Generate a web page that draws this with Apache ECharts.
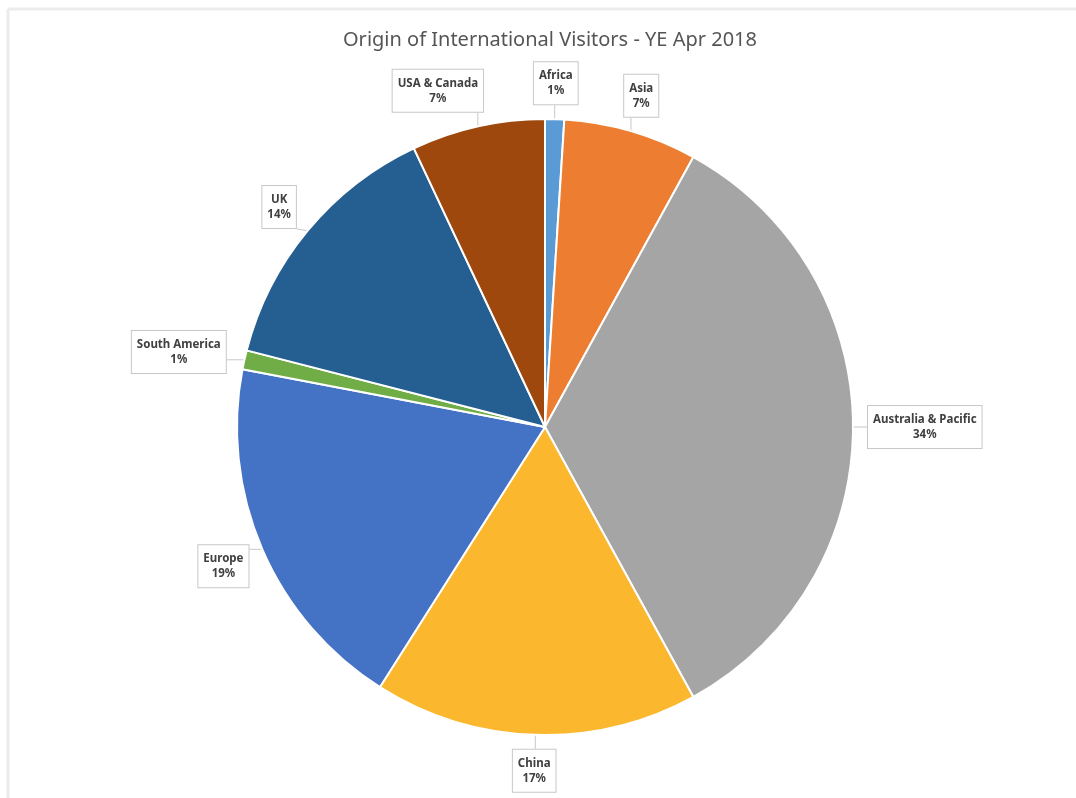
<!DOCTYPE html>
<html>
<head>
<meta charset="utf-8">
<script src="https://cdn.jsdelivr.net/npm/echarts@6/dist/echarts.min.js"></script>
<style>
  html, body { margin: 0; padding: 0; background: #ffffff; }
  #chart { width: 1076px; height: 798px; }
</style>
</head>
<body>
<div id="chart"></div>
<script>
// Regions of origin, clockwise from 12 o'clock
const categories = ['Africa', 'Asia', 'Australia & Pacific', 'China', 'Europe', 'South America', 'UK', 'USA & Canada'];
// Share of international visitors (%)
const shares = [1, 7, 34, 17, 19, 1, 14, 7];
const sliceColors = ['#5B9BD5', '#ED7D31', '#A5A5A5', '#FBB72D', '#4472C4', '#70AD47', '#255E91', '#9E480E'];

const CX = 545, CY = 427, R = 308, GAP = 14;
const total = shares.reduce((a, b) => a + b, 0);
// Callouts pushed sideways to keep clear of their neighbours
const calloutShift = { 'USA & Canada': [-32, 0], 'South America': [-4, 6] };

// Mid angle of each slice (radians, clockwise from top)
function midAngle(i) {
  let cum = 0;
  for (let k = 0; k < i; k++) cum += shares[k];
  return (cum + shares[i] / 2) / total * Math.PI * 2;
}
function clamp(v, lo, hi) { return Math.max(lo, Math.min(hi, v)); }

const chart = echarts.init(document.getElementById('chart'), null, { renderer: 'canvas' });

chart.setOption({
  backgroundColor: '#ffffff',
  animation: false,
  title: {
    text: 'Origin of International Visitors - YE Apr 2018',
    left: 338,
    top: 25,
    textStyle: { fontFamily: 'Noto Sans', fontSize: 20, fontWeight: 'normal', color: '#555555' }
  },
  graphic: [
    { type: 'line', shape: { x1: 8, y1: 9, x2: 1076, y2: 9 }, style: { stroke: '#ececec', lineWidth: 3 } },
    { type: 'line', shape: { x1: 8, y1: 9, x2: 8, y2: 798 }, style: { stroke: '#ececec', lineWidth: 3 } }
  ],
  series: [{
    type: 'pie',
    center: [CX, CY],
    radius: [0, R],
    startAngle: 90,
    clockwise: true,
    avoidLabelOverlap: false,
    data: categories.map((name, i) => ({ name: name, value: shares[i], itemStyle: { color: sliceColors[i] } })),
    itemStyle: { borderColor: '#ffffff', borderWidth: 2 },
    label: {
      show: true,
      position: 'outside',
      formatter: '{b}\n{d}%',
      fontFamily: 'Noto Sans',
      fontSize: 11.5,
      fontWeight: 'bold',
      color: '#404040',
      lineHeight: 15,
      align: 'center',
      backgroundColor: '#ffffff',
      borderColor: '#c8c8c8',
      borderWidth: 1,
      padding: [6, 5]
    },
    labelLine: {
      show: true,
      length: 10,
      length2: 0,
      lineStyle: { color: '#c8c8c8', width: 1 }
    },
    labelLayout: function (params) {
      const i = params.dataIndex;
      const a = midAngle(i);
      const ux = Math.sin(a), uy = -Math.cos(a);
      const hw = params.labelRect.width / 2, hh = params.labelRect.height / 2;
      const t = Math.min(Math.abs(ux) > 1e-6 ? hw / Math.abs(ux) : Infinity,
                         Math.abs(uy) > 1e-6 ? hh / Math.abs(uy) : Infinity);
      const d = R + GAP + t;
      const shift = calloutShift[categories[i]] || [0, 0];
      const x = CX + ux * d + shift[0], y = CY + uy * d + shift[1];
      const ex = CX + ux * R, ey = CY + uy * R;
      const bx = clamp(ex, x - hw, x + hw), by = clamp(ey, y - hh, y + hh);
      return {
        x: x, y: y,
        align: 'center',
        verticalAlign: 'middle',
        labelLinePoints: [[ex, ey], [bx, by], [bx, by]]
      };
    }
  }]
});
</script>
</body>
</html>
